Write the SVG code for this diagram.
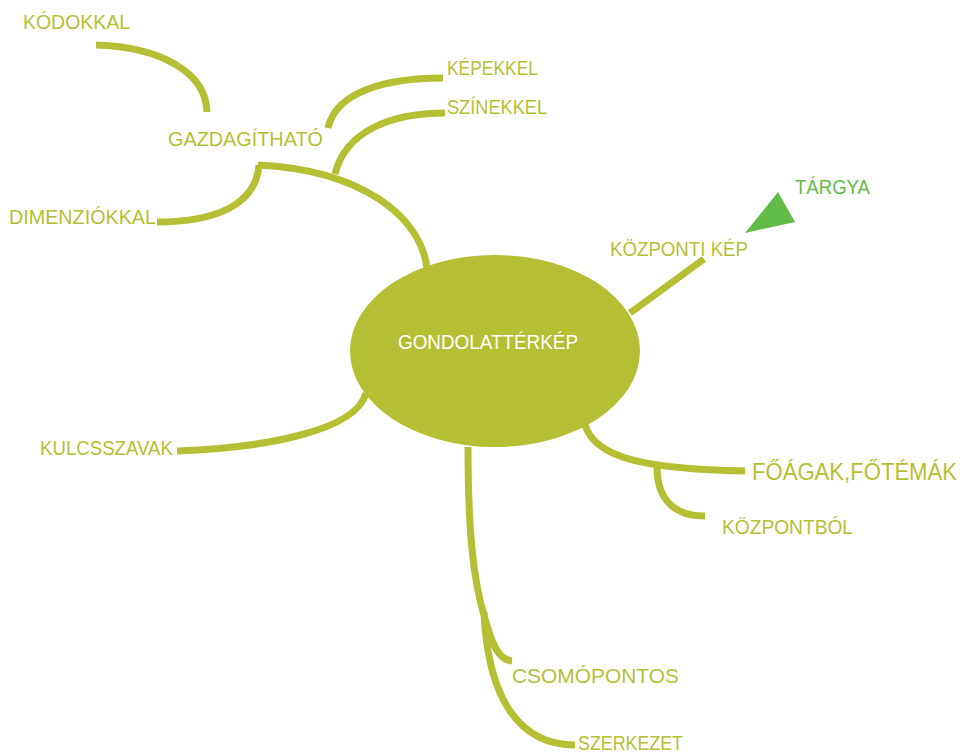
<svg xmlns="http://www.w3.org/2000/svg" width="964" height="754" viewBox="0 0 964 754">
<style>
.c{fill:none;stroke:#B5BF33;stroke-width:7;stroke-linecap:butt}
.t{font-family:"Liberation Sans",Arial,sans-serif;font-size:21px;fill:#B5BF33}
.w{fill:#FFFFFF}
.g{fill:#62BB47}
</style>
<rect width="964" height="754" fill="#FFFFFF"/>
<g id="connectors">
<path class="c" d="M427,268 C420,215 360,170 258,165"/>
<path class="c" d="M259,165 C256,205 215,222 157,222"/>
<path class="c" d="M96,45 C160,47 206,72 207,112"/>
<path class="c" d="M328,128 C336,92 385,78 443,78"/>
<path class="c" d="M335,174 C345,132 390,113 445,113"/>
<path class="c" d="M630,313 L704,259"/>
<path class="c" d="M366,393 C356,432 260,448 177,451"/>
<path class="c" d="M585,425 C595,458 645,469 745,471"/>
<path class="c" d="M657,467 C657,500 675,516 705,516"/>
<path class="c" d="M468,447 C468,560 478,600 490,635 C496,652 502,660 512,661"/>
<path class="c" d="M484,612 C488,700 520,745 575,745"/>
</g>
<g id="center">
<ellipse cx="495" cy="351" rx="145" ry="96" fill="#B5BF33"/>
<text class="t w" x="398" y="349" textLength="180" lengthAdjust="spacingAndGlyphs">GONDOLATTÉRKÉP</text>
</g>
<g id="gazdagithato"><text class="t" x="168" y="146" textLength="155" lengthAdjust="spacingAndGlyphs">GAZDAGÍTHATÓ</text></g>
<g id="kodokkal"><text class="t" x="23" y="29" textLength="107" lengthAdjust="spacingAndGlyphs">KÓDOKKAL</text></g>
<g id="dimenziokkal"><text class="t" x="9" y="224" textLength="147" lengthAdjust="spacingAndGlyphs">DIMENZIÓKKAL</text></g>
<g id="kepekkel"><text class="t" x="447" y="75" textLength="91" lengthAdjust="spacingAndGlyphs">KÉPEKKEL</text></g>
<g id="szinekkel"><text class="t" x="447" y="114" textLength="100" lengthAdjust="spacingAndGlyphs">SZÍNEKKEL</text></g>
<g id="kozponti-kep"><text class="t" x="610" y="256" textLength="138" lengthAdjust="spacingAndGlyphs">KÖZPONTI KÉP</text></g>
<g id="targya">
<polygon class="g" points="778,192 795,222 745,233"/>
<text class="t g" x="795" y="194" textLength="75" lengthAdjust="spacingAndGlyphs">TÁRGYA</text>
</g>
<g id="kulcsszavak"><text class="t" x="40" y="455" textLength="133" lengthAdjust="spacingAndGlyphs">KULCSSZAVAK</text></g>
<g id="foagak"><text class="t" x="752" y="480" style="font-size:23px" textLength="205" lengthAdjust="spacingAndGlyphs">FŐÁGAK,FŐTÉMÁK</text></g>
<g id="kozpontbol"><text class="t" x="722" y="534" textLength="131" lengthAdjust="spacingAndGlyphs">KÖZPONTBÓL</text></g>
<g id="csomopontos"><text class="t" x="512" y="683" textLength="167" lengthAdjust="spacingAndGlyphs">CSOMÓPONTOS</text></g>
<g id="szerkezet"><text class="t" x="578" y="750" textLength="105" lengthAdjust="spacingAndGlyphs">SZERKEZET</text></g>
</svg>
